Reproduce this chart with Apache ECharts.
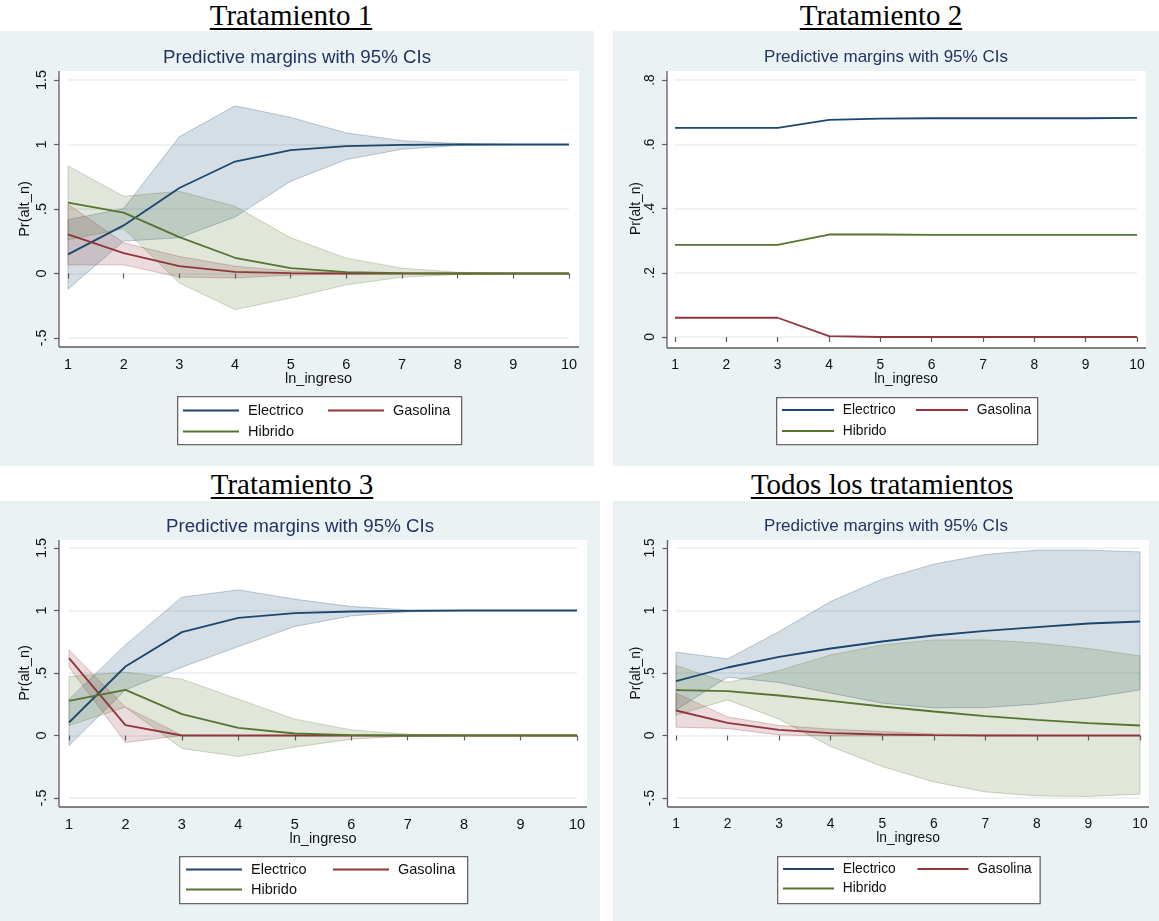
<!DOCTYPE html>
<html>
<head>
<meta charset="utf-8">
<script src="https://cdn.jsdelivr.net/npm/echarts@6/dist/echarts.min.js"></script>
<style>
  html, body { margin: 0; padding: 0; background: #fff; }
  body { width: 1159px; height: 921px; position: relative; overflow: hidden; }
  .hd {
    position: absolute; width: 400px; text-align: center;
    font-family: "Liberation Serif", "Times New Roman", serif;
    font-size: 29px; line-height: 29px; color: #000;
    text-decoration: underline; text-decoration-thickness: 1.5px; text-underline-offset: 3px;
  }
  .panel { position: absolute; background: #eaf2f3; }
</style>
</head>
<body>
<div class="hd" style="left:91px;top:1px">Tratamiento 1</div>
<div class="hd" style="left:681px;top:1px">Tratamiento 2</div>
<div class="hd" style="left:92px;top:470px">Tratamiento 3</div>
<div class="hd" style="left:682px;top:470px">Todos los tratamientos</div>

<div class="panel" id="p1" style="left:0;top:31px;width:594px;height:435px"></div>
<div class="panel" id="p2" style="left:613px;top:31px;width:546px;height:435px"></div>
<div class="panel" id="p3" style="left:0;top:501px;width:600px;height:420px"></div>
<div class="panel" id="p4" style="left:613px;top:501px;width:546px;height:420px"></div>

<script>
// ln_ingreso
const lnIngreso = [1, 2, 3, 4, 5, 6, 7, 8, 9, 10];
const seriesNames = ['Electrico', 'Gasolina', 'Hibrido'];

// ticks del eje y
const yTicksA = [-0.5, 0, 0.5, 1, 1.5];
const yLabelsA = ['-.5', '0', '.5', '1', '1.5'];
const yTicksB = [0, 0.2, 0.4, 0.6, 0.8];
const yLabelsB = ['0', '.2', '.4', '.6', '.8'];

// Tratamiento 1
const t1Electrico   = [0.148, 0.373, 0.663, 0.868, 0.956, 0.987, 0.997, 1, 1, 1];
const t1ElectricoLo = [-0.122, 0.251, 0.277, 0.438, 0.715, 0.883, 0.964, 0.992, 1, 1];
const t1ElectricoHi = [0.417, 0.503, 1.06, 1.30, 1.21, 1.09, 1.03, 1.008, 1, 1];
const t1Gasolina    = [0.303, 0.158, 0.057, 0.013, 0.003, 0, 0, 0, 0, 0];
const t1GasolinaLo  = [0.067, 0.067, -0.028, -0.034, -0.013, -0.003, 0, 0, 0, 0];
const t1GasolinaHi  = [0.536, 0.238, 0.132, 0.057, 0.018, 0.005, 0, 0, 0, 0];
const t1Hibrido     = [0.549, 0.472, 0.282, 0.122, 0.041, 0.010, 0.003, 0, 0, 0];
const t1HibridoLo   = [0.262, 0.347, -0.073, -0.28, -0.19, -0.088, -0.028, -0.008, 0, 0];
const t1HibridoHi   = [0.834, 0.598, 0.637, 0.521, 0.277, 0.119, 0.041, 0.01, 0, 0];

// Tratamiento 2
const t2Electrico = [0.651, 0.651, 0.651, 0.676, 0.680, 0.681, 0.681, 0.681, 0.681, 0.682];
const t2Gasolina  = [0.060, 0.060, 0.060, 0.003, 0, 0, 0, 0, 0, 0];
const t2Hibrido   = [0.287, 0.287, 0.287, 0.319, 0.319, 0.318, 0.318, 0.318, 0.318, 0.318];

// Tratamiento 3
const t3Electrico   = [0.104, 0.552, 0.827, 0.941, 0.979, 0.992, 0.997, 1, 1, 1];
const t3ElectricoLo = [-0.08, 0.365, 0.547, 0.712, 0.872, 0.957, 0.989, 1, 1, 1];
const t3ElectricoHi = [0.29, 0.725, 1.107, 1.165, 1.09, 1.032, 1.005, 1, 1, 1];
const t3Gasolina    = [0.619, 0.083, 0, 0, 0, 0, 0, 0, 0, 0];
const t3GasolinaLo  = [0.547, -0.056, 0, 0, 0, 0, 0, 0, 0, 0];
const t3GasolinaHi  = [0.685, 0.227, 0.002, 0, 0, 0, 0, 0, 0, 0];
const t3Hibrido     = [0.277, 0.365, 0.171, 0.061, 0.016, 0.003, 0, 0, 0, 0];
const t3HibridoLo   = [0.08, 0.227, -0.104, -0.168, -0.093, -0.029, -0.005, 0, 0, 0];
const t3HibridoHi   = [0.472, 0.507, 0.451, 0.291, 0.131, 0.045, 0.011, 0.003, 0, 0];

// Todos los tratamientos
const t4Electrico   = [0.435, 0.544, 0.629, 0.696, 0.752, 0.800, 0.837, 0.867, 0.896, 0.912];
const t4ElectricoLo = [0.205, 0.467, 0.424, 0.339, 0.259, 0.221, 0.224, 0.251, 0.299, 0.365];
const t4ElectricoHi = [0.667, 0.613, 0.832, 1.072, 1.251, 1.371, 1.448, 1.483, 1.483, 1.469];
const t4Gasolina    = [0.200, 0.101, 0.045, 0.019, 0.008, 0.003, 0, 0, 0, 0];
const t4GasolinaLo  = [0.067, 0.056, 0.005, -0.003, -0.002, -0.001, 0, 0, 0, 0];
const t4GasolinaHi  = [0.339, 0.149, 0.080, 0.051, 0.032, 0.013, 0.005, 0, 0, 0];
const t4Hibrido     = [0.363, 0.355, 0.320, 0.277, 0.232, 0.192, 0.155, 0.125, 0.099, 0.080];
const t4HibridoLo   = [0.163, 0.285, 0.131, -0.088, -0.248, -0.371, -0.451, -0.483, -0.488, -0.469];
const t4HibridoHi   = [0.560, 0.424, 0.520, 0.645, 0.725, 0.765, 0.765, 0.741, 0.696, 0.637];

const colors = { Electrico: '26,71,111', Gasolina: '144,53,59', Hibrido: '85,117,47' };
const FONT = '"Liberation Sans", Arial, sans-serif';

// layout de cada panel (px relativos al div)
// lg: box = caja de la leyenda, x1/x2 = columnas, top = primera fila
const panels = [
  { el: 'p1', plot: [59, 40, 520, 276], grid: [68, 49, 501, 258], ticks: [yTicksA, yLabelsA], fs: 14.5, subFs: 18.7, subTop: 17, yGap: 26.5,
    lg: { box: [177, 365, 284, 48], x1: 183, x2: 328, top: 372, icon: 56, gap: 6 },
    lines: [t1Electrico, t1Gasolina, t1Hibrido],
    bands: [[t1ElectricoLo, t1ElectricoHi], [t1GasolinaLo, t1GasolinaHi], [t1HibridoLo, t1HibridoHi]] },
  { el: 'p2', plot: [54, 40, 479, 277], grid: [62, 49, 462, 257], ticks: [yTicksB, yLabelsB], fs: 13.8, subFs: 17, subTop: 18, yGap: 24,
    lg: { box: [163, 366, 261, 47], x1: 169, x2: 303, top: 372, icon: 52, gap: 7 },
    lines: [t2Electrico, t2Gasolina, t2Hibrido],
    bands: null },
  { el: 'p3', plot: [59, 39, 528, 267], grid: [69, 47, 508, 250], ticks: [yTicksA, yLabelsA], fs: 14.5, subFs: 18.7, subTop: 16, yGap: 26.5,
    lg: { box: [179, 355, 288, 47], x1: 186, x2: 333, top: 361, icon: 56, gap: 5 },
    lines: [t3Electrico, t3Gasolina, t3Hibrido],
    bands: [[t3ElectricoLo, t3ElectricoHi], [t3GasolinaLo, t3GasolinaHi], [t3HibridoLo, t3HibridoHi]] },
  { el: 'p4', plot: [54.5, 39, 481.5, 267], grid: [63, 47, 464, 250], ticks: [yTicksA, yLabelsA], fs: 13.8, subFs: 17, subTop: 17, yGap: 24,
    lg: { box: [164, 355, 262.5, 47], x1: 170, x2: 304.5, top: 361, icon: 51, gap: 5.5 },
    lines: [t4Electrico, t4Gasolina, t4Hibrido],
    bands: [[t4ElectricoLo, t4ElectricoHi], [t4GasolinaLo, t4GasolinaHi], [t4HibridoLo, t4HibridoHi]] },
];

function bandSeries(name, lo, hi) {
  const c = colors[name];
  return {
    type: 'custom',
    name: 'IC ' + name,
    silent: true,
    z: 2,
    data: lnIngreso.map((x, i) => [x, lo[i], hi[i]]),
    encode: { x: 0, y: [1, 2] },
    renderItem: function (params, api) {
      if (params.dataIndex !== 0) return null;
      const top = lnIngreso.map((x, i) => api.coord([x, hi[i]]));
      const bot = lnIngreso.map((x, i) => api.coord([x, lo[i]])).reverse();
      return {
        type: 'polygon',
        shape: { points: top.concat(bot) },
        style: { fill: 'rgba(' + c + ',0.18)', stroke: 'rgba(' + c + ',0.28)', lineWidth: 1 }
      };
    }
  };
}

function initPanel(p) {
  const chart = echarts.init(document.getElementById(p.el));
  const [px, py, pw, ph] = p.plot;
  const [gl, gt, gw, gh] = p.grid;
  const yOff = gl - px;
  const xOff = py + ph - (gt + gh);
  const [ticks, labels] = p.ticks;
  const txt = { fontFamily: FONT, fontSize: p.fs, color: '#111' };
  const lg = p.lg;

  const series = [];
  if (p.bands) {
    p.bands.forEach((b, i) => series.push(bandSeries(seriesNames[i], b[0], b[1])));
  }
  p.lines.forEach((vals, i) => {
    series.push({
      type: 'line',
      name: seriesNames[i],
      data: lnIngreso.map((x, j) => [x, vals[j]]),
      showSymbol: false,
      z: 3,
      color: 'rgb(' + colors[seriesNames[i]] + ')',
      lineStyle: { width: 1.8 }
    });
  });

  const legendBase = {
    padding: 0, itemWidth: lg.icon, itemHeight: 2, icon: 'rect',
    itemGap: lg.gap, top: lg.top, z: 6,
    formatter: name => ' ' + name,
    textStyle: txt
  };

  chart.setOption({
    animation: false,
    title: {
      text: 'Predictive margins with 95% CIs',
      left: 'center', top: p.subTop, padding: 0,
      textStyle: { fontFamily: FONT, fontSize: p.subFs, fontWeight: 'normal', color: '#223463' }
    },
    graphic: [
      { type: 'rect', left: px, top: py, z: -10, shape: { width: pw, height: ph }, style: { fill: '#fff' } },
      { type: 'line', z: 5, shape: { x1: px, y1: py, x2: px, y2: py + ph }, style: { stroke: '#5c5c5c', lineWidth: 1.3 } },
      { type: 'line', z: 5, shape: { x1: px, y1: py + ph, x2: px + pw, y2: py + ph }, style: { stroke: '#5c5c5c', lineWidth: 1.3 } },
      { type: 'rect', left: lg.box[0], top: lg.box[1], z: 1,
        shape: { width: lg.box[2], height: lg.box[3] },
        style: { fill: '#fff', stroke: '#666', lineWidth: 1.3 } }
    ],
    grid: { left: gl, top: gt, width: gw, height: gh },
    xAxis: {
      type: 'value', min: lnIngreso[0], max: lnIngreso[lnIngreso.length - 1], interval: 1,
      offset: xOff,
      axisLine: { show: false },
      axisTick: { show: true, length: 5, lineStyle: { color: '#5c5c5c', width: 1.2 } },
      axisLabel: Object.assign({ margin: 10 }, txt),
      splitLine: { show: false },
      name: 'ln_ingreso', nameLocation: 'middle', nameGap: 24, nameMoveOverlap: false,
      nameTextStyle: txt
    },
    yAxis: {
      type: 'value', min: ticks[0], max: ticks[ticks.length - 1], interval: ticks[1] - ticks[0],
      offset: yOff,
      axisLine: { show: false },
      axisTick: { show: true, length: 5, lineStyle: { color: '#5c5c5c', width: 1.2 } },
      axisLabel: Object.assign({
        rotate: 90, margin: 10,
        formatter: v => labels[ticks.findIndex(t => Math.abs(t - v) < 1e-6)]
      }, txt),
      splitLine: { show: true, lineStyle: { color: '#e7eff1', width: 1.5 } },
      name: 'Pr(alt_n)', nameLocation: 'middle', nameGap: p.yGap, nameRotate: 90, nameMoveOverlap: false,
      nameTextStyle: txt
    },
    legend: [
      Object.assign({}, legendBase, { data: ['Electrico', 'Hibrido'], orient: 'vertical', left: lg.x1 }),
      Object.assign({}, legendBase, { data: ['Gasolina'], orient: 'vertical', left: lg.x2 })
    ],
    series: series
  });
}

panels.forEach(initPanel);
</script>
</body>
</html>
